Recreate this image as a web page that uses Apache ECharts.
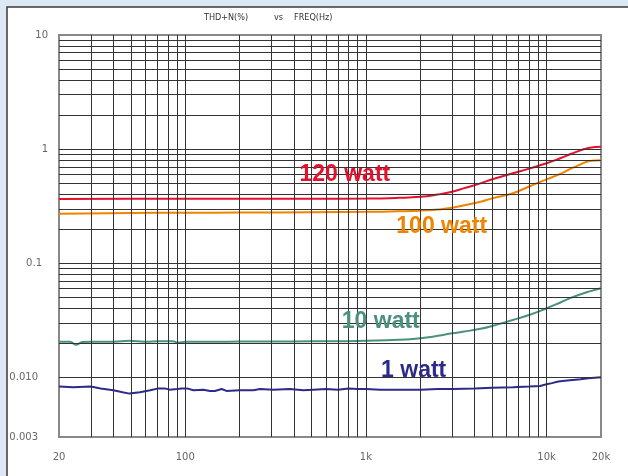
<!DOCTYPE html>
<html>
<head>
<meta charset="utf-8">
<script src="https://cdn.jsdelivr.net/npm/echarts@6/dist/echarts.min.js"></script>
<style>
html, body { margin: 0; padding: 0; background: #dde8f5; }
#main { width: 628px; height: 476px; }
</style>
</head>
<body>
<div id="main"></div>
<script>
// curves (Hz, THD+N %)
var freq120 = [20, 50, 100, 200, 500, 1000, 1500, 2000, 2500, 3000, 3500, 4300, 5000, 6500, 8000, 10000, 12000, 13700, 15400, 17300, 20000];
var thd120  = [0.366, 0.367, 0.367, 0.367, 0.367, 0.369, 0.374, 0.382, 0.400, 0.423, 0.455, 0.501, 0.545, 0.614, 0.675, 0.751, 0.835, 0.91, 0.975, 1.03, 1.05];

var freq100 = [20, 50, 100, 200, 500, 1000, 1500, 2000, 2500, 3000, 3500, 4300, 5000, 6500, 8000, 10000, 12000, 13700, 15400, 17300, 20000];
var thd100  = [0.272, 0.276, 0.277, 0.278, 0.280, 0.282, 0.285, 0.289, 0.296, 0.306, 0.322, 0.346, 0.370, 0.410, 0.470, 0.543, 0.610, 0.679, 0.735, 0.785, 0.80];

var freq10 = [20, 23, 24.8, 27, 30, 40, 49, 60, 72, 85, 91, 100, 150, 200, 300, 500, 700, 1000, 1500, 2000, 2500, 3000, 3500, 4300, 5000, 6500, 8000, 10000, 12000, 13700, 17300, 20000];
var thd10  = [0.0205, 0.0205, 0.0193, 0.0204, 0.0205, 0.0205, 0.0209, 0.0205, 0.0207, 0.0207, 0.0202, 0.0205, 0.0205, 0.0206, 0.0206, 0.0207, 0.0207, 0.0209, 0.0213, 0.0220, 0.0231, 0.0243, 0.0252, 0.0266, 0.0282, 0.0318, 0.0352, 0.0403, 0.0455, 0.0499, 0.0567, 0.0603];

var freq1 = [20, 24, 30, 34, 40, 45, 49, 56, 64, 71, 77, 82, 90, 96, 102, 111, 126, 137, 146, 159, 169, 200, 238, 259, 307, 380, 450, 510, 600, 700, 800, 900, 1000, 1200, 1500, 2000, 2500, 3000, 4000, 5000, 6500, 8000, 9200, 10000, 10700, 11600, 13000, 15400, 17000, 20000];
var thd1  = [0.0083, 0.0082, 0.0083, 0.0080, 0.0077, 0.0074, 0.0072, 0.0074, 0.0077, 0.0080, 0.0080, 0.0078, 0.0079, 0.0080, 0.0080, 0.0077, 0.0078, 0.0076, 0.0076, 0.0079, 0.0076, 0.0077, 0.0077, 0.0079, 0.0078, 0.0079, 0.0077, 0.0078, 0.0079, 0.0078, 0.0080, 0.0079, 0.0079, 0.0078, 0.0078, 0.0078, 0.0079, 0.0079, 0.0080, 0.0081, 0.0082, 0.0083, 0.0084, 0.0087, 0.0089, 0.0092, 0.0094, 0.0096, 0.0098, 0.0100];

// where the curve names sit [Hz, %]
var curveNames = ['120 watt', '100 watt', '10 watt', '1 watt'];
var namePos = [[764, 0.601], [2626, 0.2077], [1208, 0.0307], [1837, 0.01135]];
var colors = ['#e5102c', '#f08300', '#4a917d', '#2d2a8c'];

// grid lines
var xGrid = [30, 40, 50, 60, 70, 80, 90, 100, 200, 300, 400, 500, 600, 700, 800, 900, 1000,
             2000, 3000, 4000, 5000, 6000, 7000, 8000, 9000, 10000];
var yGrid = [0.004, 0.005, 0.006, 0.007, 0.008, 0.009, 0.01, 0.02, 0.03, 0.04, 0.05, 0.06, 0.07, 0.08, 0.09,
             0.1, 0.2, 0.3, 0.4, 0.5, 0.6, 0.7, 0.8, 0.9, 1, 2, 3, 4, 5, 6, 7, 8, 9];
var yLabels = { '10': '{a|10}', '1': '{a|1}', '0.1': '{b|0.1}', '0.01': '{c|0.010}', '0.003': '{c|0.003}' };

function pairs(xs, ys) {
  return xs.map(function (x, i) { return [x, ys[i]]; });
}

var seriesData = [pairs(freq120, thd120), pairs(freq100, thd100), pairs(freq10, thd10), pairs(freq1, thd1)];

var series = [{
  type: 'line',
  data: [],
  z: 1,
  silent: true,
  markLine: {
    silent: true,
    animation: false,
    symbol: ['none', 'none'],
    label: { show: false },
    emphasis: { disabled: true },
    lineStyle: { color: '#333', width: 1, type: 'solid' },
    data: xGrid.map(function (v) { return { xAxis: v }; })
      .concat(yGrid.map(function (v) { return { yAxis: v }; }))
  }
}];

seriesData.forEach(function (d, i) {
  series.push({
    type: 'line',
    data: d,
    z: 3,
    symbol: 'none',
    smooth: i < 3 ? 0.5 : false,
    lineStyle: { color: colors[i], width: 2 },
    itemStyle: { color: colors[i] },
    animation: false,
    markPoint: {
      symbol: 'circle',
      symbolSize: 0,
      animation: false,
      label: {
        show: true,
        position: 'inside',
        formatter: '{b}',
        color: colors[i],
        fontFamily: 'Liberation Sans',
        fontWeight: 'bold',
        fontSize: 23
      },
      data: [{ name: curveNames[i], coord: namePos[i] }]
    }
  });
});

var titleStyle = { fontSize: 9, fontWeight: 'normal', color: '#333', fontFamily: 'DejaVu Sans Condensed' };

var chart = echarts.init(document.getElementById('main'));
chart.setOption({
  backgroundColor: 'transparent',
  animation: false,
  title: [
    { text: 'THD+N(%)', left: 199, top: 8, textStyle: titleStyle },
    { text: 'vs', left: 269, top: 8, textStyle: titleStyle },
    { text: 'FREQ(Hz)', left: 289, top: 8, textStyle: titleStyle }
  ],
  graphic: [{
    type: 'rect',
    shape: { x: 7, y: 7, width: 640, height: 480 },
    style: { fill: '#ffffff', stroke: '#3a3a3a', lineWidth: 1.5 },
    z: -10,
    silent: true
  }],
  grid: { left: 59, right: 27, top: 35, bottom: 39, show: true, borderColor: '#888', borderWidth: 2, backgroundColor: 'transparent' },
  xAxis: {
    type: 'log',
    logBase: 10,
    min: 20,
    max: 20000,
    axisLine: { show: false },
    axisTick: { show: false },
    splitLine: { show: false },
    axisLabel: {
      margin: 15,
      color: '#666',
      fontSize: 10,
      fontFamily: 'DejaVu Sans',
      formatter: function (v) {
        var r = Math.round(v);
        return r >= 1000 ? (r / 1000) + 'k' : '' + r;
      }
    }
  },
  yAxis: {
    type: 'log',
    logBase: 10,
    min: 0.003,
    max: 10,
    axisLine: { show: false },
    axisTick: { show: false },
    splitLine: { show: false },
    axisLabel: {
      margin: 11,
      color: '#666',
      fontSize: 10,
      fontFamily: 'DejaVu Sans',
      formatter: function (v) {
        var k = String(parseFloat(v.toPrecision(3)));
        return yLabels[k] || '';
      },
      rich: {
        a: { color: '#666', fontSize: 10, fontFamily: 'DejaVu Sans' },
        b: { color: '#666', fontSize: 10, fontFamily: 'DejaVu Sans', padding: [0, 6, 0, 0] },
        c: { color: '#666', fontSize: 10, fontFamily: 'DejaVu Sans', padding: [0, 10, 0, 0] }
      }
    }
  },
  series: series
});
</script>
</body>
</html>
